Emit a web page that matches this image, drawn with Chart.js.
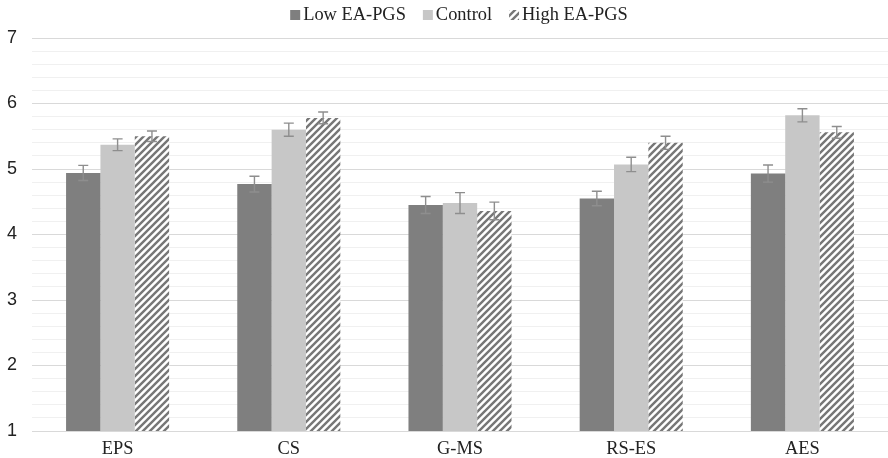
<!DOCTYPE html>
<html><head><meta charset="utf-8">
<script src="https://cdn.jsdelivr.net/npm/chart.js@4"></script>
<style>html,body{margin:0;padding:0;background:#fff}#wrap{width:888px;height:458px}</style>
</head><body><div id="wrap"><canvas id="c"></canvas></div>
<script>
const categories = ["EPS", "CS", "G-MS", "RS-ES", "AES"];
const lowValues = [4.94, 4.77, 4.45, 4.55, 4.93];
const lowErrors = [0.115, 0.12, 0.13, 0.11, 0.13];
const controlValues = [5.37, 5.60, 4.48, 5.07, 5.82];
const controlErrors = [0.09, 0.10, 0.16, 0.11, 0.10];
const highValues = [5.50, 5.78, 4.36, 5.40, 5.56];
const highErrors = [0.08, 0.09, 0.135, 0.10, 0.09];
const seriesNames = ["Low EA-PGS", "Control", "High EA-PGS"];

function hatch() {
  const s = 7;
  const c = document.createElement('canvas');
  c.width = s; c.height = s;
  const x = c.getContext('2d');
  x.fillStyle = '#fff'; x.fillRect(0,0,s,s);
  x.strokeStyle = '#777'; x.lineWidth = 2.4;
  x.beginPath();
  x.moveTo(0, s); x.lineTo(s, 0);
  x.moveTo(-s/2, s/2); x.lineTo(s/2, -s/2);
  x.moveTo(s/2, s*1.5); x.lineTo(s*1.5, s/2);
  x.stroke();
  return x.createPattern(c, 'repeat');
}

const errorArrays = [lowErrors, controlErrors, highErrors];
const errPlugin = {
  id: 'err',
  afterDatasetsDraw(chart) {
    const ctx = chart.ctx, y = chart.scales.y;
    ctx.save();
    ctx.strokeStyle = '#8e8e8e'; ctx.lineWidth = 1.4;
    chart.data.datasets.forEach((ds, i) => {
      const meta = chart.getDatasetMeta(i);
      meta.data.forEach((el, j) => {
        const v = ds.data[j], e = errorArrays[i][j];
        const y1 = y.getPixelForValue(v + e), y2 = y.getPixelForValue(v - e);
        ctx.beginPath();
        ctx.moveTo(el.x, y1); ctx.lineTo(el.x, y2);
        ctx.moveTo(el.x - 5, y1); ctx.lineTo(el.x + 5, y1);
        ctx.moveTo(el.x - 5, y2); ctx.lineTo(el.x + 5, y2);
        ctx.stroke();
      });
    });
    ctx.restore();
  }
};

// Custom legend drawn on canvas with the dataset colours
const legendPlugin = {
  id: 'customLegend',
  afterDraw(chart) {
    const ctx = chart.ctx;
    ctx.save();
    ctx.font = '18.4px "Liberation Serif"';
    ctx.textBaseline = 'middle';
    const box = 10, gapText = 3, gapItem = 17, cy = 14;
    const ds = chart.data.datasets;
    const widths = ds.map(d => box + gapText + ctx.measureText(d.label).width);
    const total = widths.reduce((a, b) => a + b, 0) + gapItem * (ds.length - 1);
    let x = 459 - total / 2;
    ds.forEach((d, i) => {
      ctx.fillStyle = d.backgroundColor;
      ctx.fillRect(x, cy - box / 2 + 1, box, box);
      ctx.fillStyle = '#222';
      ctx.fillText(d.label, x + box + gapText, cy + 1);
      x += widths[i] + gapItem;
    });
    ctx.restore();
  }
};

const isInt = v => Math.abs(v - Math.round(v)) < 1e-6;

new Chart(document.getElementById('c'), {
  type: 'bar',
  data: {
    labels: categories,
    datasets: [
      { label: seriesNames[0], data: lowValues, backgroundColor: '#7f7f7f' },
      { label: seriesNames[1], data: controlValues, backgroundColor: '#c7c7c7' },
      { label: seriesNames[2], data: highValues, backgroundColor: hatch() }
    ]
  },
  options: {
    responsive: true, maintainAspectRatio: false, animation: false,
    layout: { padding: { left: 6, right: -7.5, top: 38, bottom: 0 } },
    datasets: { bar: { categoryPercentage: 0.602, barPercentage: 1.0 } },
    plugins: {
      legend: { display: false },
      tooltip: { enabled: false }
    },
    scales: {
      x: {
        grid: { display: false, drawTicks: false },
        border: { color: '#d9d9d9' },
        afterFit: s => { s.height = 27; },
        ticks: { color: '#222', font: { family: 'Liberation Serif', size: 18.4 }, padding: 7 }
      },
      y: {
        min: 1, max: 7,
        border: { display: false },
        afterFit: s => { s.width = 26; },
        grid: { drawTicks: false, color: c => isInt(c.tick.value) ? '#d9d9d9' : '#f0f0f0', lineWidth: 1 },
        ticks: { stepSize: 0.2, autoSkip: false, padding: 15, color: '#222',
          font: { family: 'Liberation Sans', size: 18 },
          callback: v => isInt(v) ? String(Math.round(v)) : '' }
      }
    }
  },
  plugins: [errPlugin, legendPlugin]
});
</script></body></html>
